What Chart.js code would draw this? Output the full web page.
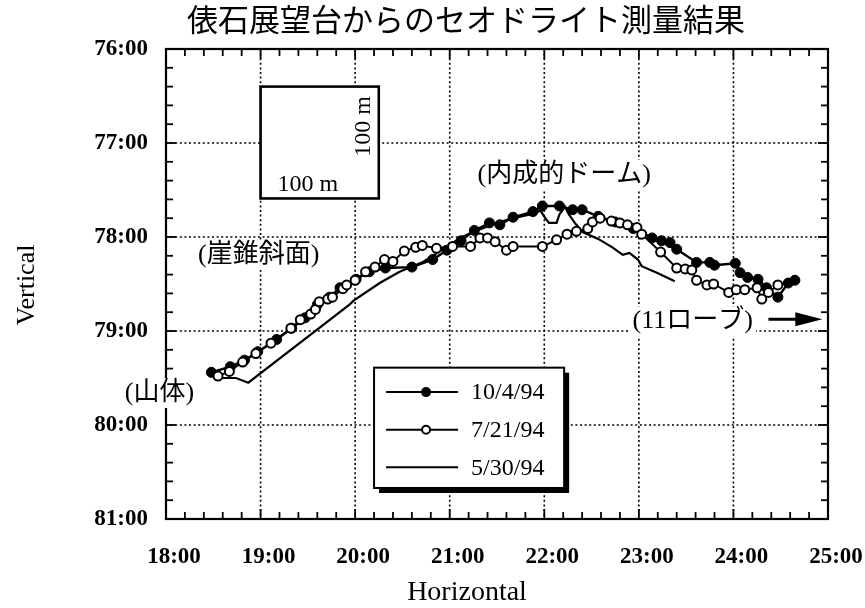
<!DOCTYPE html>
<html>
<head>
<meta charset="utf-8">
<script src="https://cdn.jsdelivr.net/npm/chart.js@4.4.0/dist/chart.umd.min.js"></script>
<style>
  html, body { margin: 0; padding: 0; background: #fff; }
  #wrap { width: 865px; height: 608px; }
</style>
</head>
<body>
<div id="wrap"><canvas id="c" width="865" height="608"></canvas></div>
<script>
// Theodolite survey from the Tawaraishi observatory: horizontal / vertical angles (degrees)
const chartTitle = '俵石展望台からのセオドライト測量結果';
const xTitle = 'Horizontal';
const yTitle = 'Vertical';
const xTicks = [18, 19, 20, 21, 22, 23, 24, 25];
const yTicks = [76, 77, 78, 79, 80, 81];
const seriesNames = ['10/4/94', '7/21/94', '5/30/94'];

// 10/4/94 (filled circles)
const oct4H = [18.48, 18.68, 18.83, 18.97, 19.17, 19.33, 19.47, 19.60, 19.73, 19.84, 20.01, 20.15, 20.32,
  20.60, 20.82, 20.97, 21.12, 21.26, 21.42, 21.53, 21.67, 21.88, 21.98, 22.16, 22.30, 22.40, 22.57, 22.75,
  22.94, 23.14, 23.24, 23.33, 23.40, 23.61, 23.75, 23.80, 24.02, 24.07, 24.15, 24.26, 24.35, 24.47, 24.58, 24.65];
const oct4V = [79.44, 79.38, 79.31, 79.22, 79.09, 78.97, 78.86, 78.72, 78.64, 78.54, 78.45, 78.37, 78.33,
  78.32, 78.24, 78.14, 78.04, 77.93, 77.85, 77.87, 77.79, 77.73, 77.67, 77.67, 77.71, 77.71, 77.78, 77.84,
  77.91, 78.01, 78.04, 78.06, 78.13, 78.27, 78.27, 78.30, 78.28, 78.38, 78.43, 78.45, 78.54, 78.64, 78.49, 78.46];

// 7/21/94 (open circles)
const jul21H = [18.55, 18.67, 18.81, 18.95, 19.11, 19.32, 19.42, 19.53, 19.58, 19.62, 19.71, 19.76, 19.87,
  19.91, 20.00, 20.11, 20.21, 20.31, 20.40, 20.52, 20.64, 20.71, 20.86, 21.03, 21.22, 21.32, 21.40, 21.48,
  21.60, 21.67, 21.98, 22.13, 22.24, 22.34, 22.46, 22.51, 22.59, 22.71, 22.80, 22.88, 22.98, 23.03, 23.23,
  23.40, 23.49, 23.56, 23.61, 23.72, 23.79, 23.95, 24.03, 24.12, 24.25, 24.30, 24.37, 24.47];
const jul21V = [79.48, 79.43, 79.33, 79.24, 79.13, 78.97, 78.88, 78.82, 78.77, 78.69, 78.66, 78.64, 78.55,
  78.51, 78.46, 78.37, 78.32, 78.24, 78.26, 78.15, 78.11, 78.09, 78.12, 78.10, 78.10, 78.01, 78.01, 78.05,
  78.14, 78.10, 78.10, 78.03, 77.97, 77.94, 77.91, 77.84, 77.80, 77.83, 77.85, 77.87, 77.90, 77.97, 78.16,
  78.33, 78.34, 78.35, 78.46, 78.51, 78.50, 78.59, 78.56, 78.56, 78.54, 78.66, 78.59, 78.51];

// 5/30/94 (plain line)
const may30H = [18.55, 18.74, 18.87, 19.94, 19.98, 20.26, 20.47, 20.71, 20.96, 21.11, 21.24, 21.42, 21.63,
  21.85, 21.96, 22.01, 22.05, 22.13, 22.16, 22.22, 22.26, 22.33, 22.41, 22.57, 22.72, 22.83, 22.90, 22.99,
  23.03, 23.19, 23.38];
const may30V = [79.50, 79.50, 79.55, 78.72, 78.68, 78.49, 78.37, 78.27, 78.11, 78.01, 77.95, 77.88, 77.81,
  77.76, 77.72, 77.80, 77.85, 77.85, 77.76, 77.68, 77.76, 77.86, 77.95, 78.02, 78.11, 78.19, 78.17, 78.24,
  78.31, 78.38, 78.47];

const pairs = (hs, vs) => hs.map((h, i) => ({ x: h, y: vs[i] }));
const fmt = v => v + ':00';

const serif = '"Liberation Serif", "Times New Roman", serif';
const serifJP = '"Liberation Serif", "Noto Sans CJK JP", serif';

function strokeLine(ctx, x1, y1, x2, y2) {
  ctx.beginPath(); ctx.moveTo(x1, y1); ctx.lineTo(x2, y2); ctx.stroke();
}

function boxedText(ctx, text, cx, cy, font) {
  ctx.font = font;
  const w = ctx.measureText(text).width;
  ctx.fillStyle = '#fff';
  ctx.fillRect(cx - w / 2 - 3, cy - 15, w + 6, 30);
  ctx.fillStyle = '#000';
  ctx.textAlign = 'center';
  ctx.textBaseline = 'middle';
  ctx.fillText(text, cx, cy);
}

// Frame, dotted grid, inward ticks, scale box, labels and legend
const decor = {
  id: 'decor',
  beforeDatasetsDraw(chart) {
    const { ctx, chartArea: a, scales: { x, y } } = chart;
    const X = v => x.getPixelForValue(v);
    const Y = v => y.getPixelForValue(v);
    ctx.save();

    // dotted grid
    ctx.strokeStyle = '#000';
    ctx.lineWidth = 1.6;
    ctx.setLineDash([2, 2.6]);
    xTicks.slice(1, -1).forEach(v => strokeLine(ctx, X(v), a.top, X(v), a.bottom));
    yTicks.slice(1, -1).forEach(v => strokeLine(ctx, a.left, Y(v), a.right, Y(v)));
    ctx.setLineDash([]);

    // frame
    ctx.lineWidth = 2.2;
    ctx.strokeRect(a.left, a.top, a.right - a.left, a.bottom - a.top);

    // inward ticks every 12 minutes
    ctx.lineWidth = 1.8;
    for (let i = 0; i <= 35; i++) {
      const px = X(18 + i * 0.2);
      const len = i % 5 === 0 ? 10 : 7;
      strokeLine(ctx, px, a.bottom, px, a.bottom - len);
      strokeLine(ctx, px, a.top, px, a.top + len);
    }
    for (let i = 0; i <= 25; i++) {
      const py = Y(76 + i * 0.2);
      const len = i % 5 === 0 ? 10 : 7;
      strokeLine(ctx, a.left, py, a.left + len, py);
      strokeLine(ctx, a.right, py, a.right - len, py);
    }

    // 100 m scale box
    const bx0 = X(19.0), bx1 = X(20.25), by0 = Y(76.40), by1 = Y(77.59);
    ctx.fillStyle = '#fff';
    ctx.fillRect(bx0, by0, bx1 - bx0, by1 - by0);
    ctx.lineWidth = 2.6;
    ctx.strokeRect(bx0, by0, bx1 - bx0, by1 - by0);
    ctx.fillStyle = '#000';
    ctx.font = '24px ' + serif;
    ctx.textAlign = 'left';
    ctx.textBaseline = 'alphabetic';
    ctx.fillText('100 m', bx0 + 17, by1 - 7);
    ctx.save();
    ctx.translate(bx1 - 9, (by0 + by1) / 2 - 16);
    ctx.rotate(-Math.PI / 2);
    ctx.textAlign = 'center';
    ctx.fillText('100 m', 0, 0);
    ctx.restore();

    // region labels
    const lf = '26px ' + serifJP;
    boxedText(ctx, '(崖錐斜面)', X(18.98), Y(78.19), lf);
    boxedText(ctx, '(内成的ドーム)', X(22.21), Y(77.34), lf);
    boxedText(ctx, '(11ローブ)', X(23.57), Y(78.90), lf);
    boxedText(ctx, '(山体)', X(17.93), Y(79.66), lf);

    // arrow toward the lobe
    const ay = Y(78.875), ax0 = X(24.37), ax1 = X(24.94);
    ctx.lineWidth = 3;
    strokeLine(ctx, ax0, ay, ax1 - 20, ay);
    ctx.beginPath();
    ctx.moveTo(ax1, ay);
    ctx.lineTo(ax1 - 27, ay - 7);
    ctx.lineTo(ax1 - 27, ay + 7);
    ctx.closePath();
    ctx.fill();

    // title and axis titles
    ctx.font = '31px ' + serifJP;
    ctx.textAlign = 'center';
    ctx.textBaseline = 'middle';
    ctx.fillText(chartTitle, 466, 23);
    ctx.font = '28px ' + serif;
    ctx.fillText(xTitle, 467, 593);
    ctx.save();
    ctx.translate(27, 285);
    ctx.rotate(-Math.PI / 2);
    ctx.font = '26px ' + serif;
    ctx.fillText(yTitle, 0, 0);
    ctx.restore();

    ctx.restore();
  },
  afterDatasetsDraw(chart) {
    const { ctx, scales: { x, y } } = chart;
    const lx0 = x.getPixelForValue(20.20), lx1 = x.getPixelForValue(22.21);
    const ly0 = y.getPixelForValue(79.39), ly1 = y.getPixelForValue(80.67);
    ctx.save();
    ctx.fillStyle = '#000';
    ctx.fillRect(lx0 + 5, ly0 + 5, lx1 - lx0, ly1 - ly0);
    ctx.fillStyle = '#fff';
    ctx.fillRect(lx0, ly0, lx1 - lx0, ly1 - ly0);
    ctx.strokeStyle = '#000';
    ctx.lineWidth = 2;
    ctx.strokeRect(lx0, ly0, lx1 - lx0, ly1 - ly0);
    const rowH = (ly1 - ly0) / 3.2;
    seriesNames.forEach((name, i) => {
      const ry = ly0 + rowH * (0.65 + i);
      ctx.lineWidth = 2;
      strokeLine(ctx, lx0 + 12, ry, lx0 + 84, ry);
      if (i === 0) {
        ctx.fillStyle = '#000';
        ctx.beginPath(); ctx.arc(lx0 + 52, ry, 5, 0, Math.PI * 2); ctx.fill();
      } else if (i === 1) {
        ctx.fillStyle = '#fff';
        ctx.beginPath(); ctx.arc(lx0 + 52, ry, 4, 0, Math.PI * 2); ctx.fill(); ctx.stroke();
      }
      ctx.fillStyle = '#000';
      ctx.font = '24px ' + serif;
      ctx.textAlign = 'left';
      ctx.textBaseline = 'middle';
      ctx.fillText(name, lx0 + 97, ry + 1);
    });
    ctx.restore();
  }
};

new Chart(document.getElementById('c'), {
  type: 'scatter',
  data: {
    datasets: [
      {
        label: seriesNames[0], data: pairs(oct4H, oct4V), showLine: true, order: 1,
        borderColor: '#000', borderWidth: 2.4, pointRadius: 5,
        pointBackgroundColor: '#000', pointBorderColor: '#000', pointBorderWidth: 1
      },
      {
        label: seriesNames[1], data: pairs(jul21H, jul21V), showLine: true, order: 0,
        borderColor: '#000', borderWidth: 2, pointRadius: 4.5,
        pointBackgroundColor: '#fff', pointBorderColor: '#000', pointBorderWidth: 2
      },
      {
        label: seriesNames[2], data: pairs(may30H, may30V), showLine: true, order: 2,
        borderColor: '#000', borderWidth: 2.2, pointRadius: 0
      }
    ]
  },
  options: {
    responsive: false,
    animation: false,
    devicePixelRatio: 1,
    layout: { padding: { top: 49, right: 37, left: 0, bottom: 0 } },
    plugins: { legend: { display: false }, title: { display: false }, tooltip: { enabled: false } },
    scales: {
      x: {
        type: 'linear', min: 18, max: 25,
        grid: { display: false, drawTicks: false },
        border: { display: false },
        afterFit: s => { s.height = 89; s.paddingLeft = 0; s.paddingRight = 0; },
        afterBuildTicks: s => { s.ticks = xTicks.map(v => ({ value: v })); },
        ticks: { callback: fmt, color: '#000', padding: 24, labelOffset: 8, maxRotation: 0,
          font: { family: serif, size: 23, weight: 'bold' } },
        title: { display: false }
      },
      y: {
        type: 'linear', min: 76, max: 81, reverse: true,
        grid: { display: false, drawTicks: false },
        border: { display: false },
        afterFit: s => { s.width = 166; s.paddingTop = 0; s.paddingBottom = 0; },
        afterBuildTicks: s => { s.ticks = yTicks.map(v => ({ value: v })); },
        ticks: { callback: fmt, color: '#000', padding: 18,
          font: { family: serif, size: 23, weight: 'bold' } },
        title: { display: false }
      }
    }
  },
  plugins: [decor]
});
</script>
</body>
</html>
